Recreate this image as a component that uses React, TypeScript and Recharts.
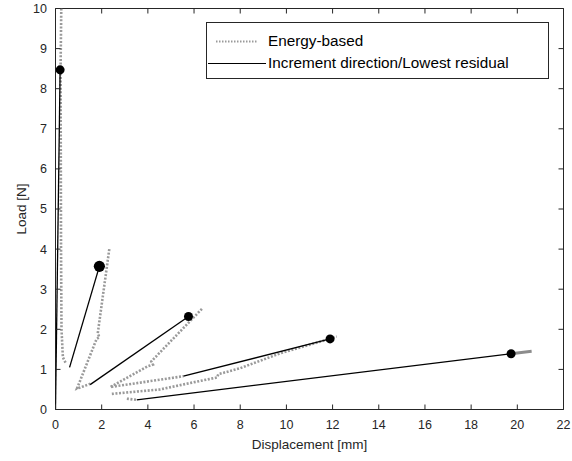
import React from "react";
import { ComposedChart, Line, Scatter, XAxis, YAxis, ReferenceArea, ReferenceLine } from "recharts";

const xTicks = [0, 2, 4, 6, 8, 10, 12, 14, 16, 18, 20, 22];
const yTicks = [0, 1, 2, 3, 4, 5, 6, 7, 8, 9, 10];

// Energy-based path
const energyBranch1 = [
  { x: 0.25, y: 10 },
  { x: 0.22, y: 8.5 },
  { x: 0.24, y: 4 },
  { x: 0.26, y: 2 },
  { x: 0.32, y: 1.3 },
  { x: 0.45, y: 1.15 },
];
const energyBranch2 = [
  { x: 2.33, y: 4.0 },
  { x: 1.83, y: 1.9 },
  { x: 1.9, y: 1.8 },
  { x: 1.78, y: 1.76 },
  { x: 0.93, y: 0.52 },
  { x: 1.5, y: 0.64 },
];
const energyBranch3 = [
  { x: 6.34, y: 2.51 },
  { x: 4.15, y: 1.2 },
  { x: 4.22, y: 1.12 },
  { x: 4.0, y: 1.08 },
  { x: 2.37, y: 0.56 },
  { x: 5.54, y: 0.83 },
];
const energyBranch4 = [
  { x: 2.44, y: 0.39 },
  { x: 4.53, y: 0.5 },
  { x: 5.83, y: 0.66 },
  { x: 7.0, y: 0.8 },
  { x: 7.05, y: 0.88 },
  { x: 8.0, y: 1.03 },
  { x: 9.73, y: 1.4 },
  { x: 11.75, y: 1.74 },
  { x: 12.18, y: 1.82 },
];
const energyBranch5 = [
  { x: 3.09, y: 0.27 },
  { x: 3.52, y: 0.24 },
];
const energyTail = [
  { x: 19.73, y: 1.39 },
  { x: 20.62, y: 1.45 },
];

// Increment direction / lowest residual segments
const incrementA = [
  { x: 0, y: 0 },
  { x: 0.2, y: 8.47 },
];
const incrementB = [
  { x: 0.61, y: 1.05 },
  { x: 1.9, y: 3.57 },
];
const incrementC = [
  { x: 1.5, y: 0.62 },
  { x: 5.76, y: 2.32 },
];
const incrementD = [
  { x: 5.54, y: 0.83 },
  { x: 11.89, y: 1.76 },
];
const incrementE = [
  { x: 3.52, y: 0.24 },
  { x: 19.73, y: 1.39 },
];

const peakPoints = [
  { x: 0.2, y: 8.47 },
  { x: 5.76, y: 2.32 },
  { x: 11.89, y: 1.76 },
  { x: 19.73, y: 1.39 },
];
const doublePeak = [{ x: 1.9, y: 3.57 }];

const energyBranches = [energyBranch1, energyBranch2, energyBranch3, energyBranch4, energyBranch5];
const incrementSegments = [incrementA, incrementB, incrementC, incrementD, incrementE];

const INK = "#262626";
const GREY = "#9a9a9a";
const FONT = '"Liberation Sans", Arial, Helvetica, sans-serif';
const TICK_LEN = 5;

const dot = (r: number) => (p: any) => <circle cx={p.cx} cy={p.cy} r={r} fill="#000" />;

// MATLAB-style inward ticks at both ends of a reference line, drawn as paths
function VTicks(p: any) {
  const x = Number(p.x1);
  const top = Math.min(Number(p.y1), Number(p.y2));
  const bottom = Math.max(Number(p.y1), Number(p.y2));
  return (
    <path
      d={`M${x},${bottom}V${bottom - TICK_LEN}M${x},${top}V${top + TICK_LEN}`}
      stroke={INK}
      strokeWidth={1}
      fill="none"
    />
  );
}
function HTicks(p: any) {
  const y = Number(p.y1);
  const left = Math.min(Number(p.x1), Number(p.x2));
  const right = Math.max(Number(p.x1), Number(p.x2));
  return (
    <path
      d={`M${left},${y}H${left + TICK_LEN}M${right},${y}H${right - TICK_LEN}`}
      stroke={INK}
      strokeWidth={1}
      fill="none"
    />
  );
}

function Legend() {
  return (
    <div
      style={{
        position: "absolute",
        left: 206,
        top: 22,
        width: 341,
        height: 55,
        border: `1px solid ${INK}`,
        background: "#fff",
        fontFamily: FONT,
        fontSize: 15.3,
        color: "#000",
      }}
    >
      <svg width={60} height={55} style={{ position: "absolute", left: 0, top: 0 }}>
        <line x1={9} y1={18.5} x2={51} y2={18.5} stroke={GREY} strokeWidth={2} strokeDasharray="1.5 1.5" />
        <line x1={1} y1={40.5} x2={59} y2={40.5} stroke="#000" strokeWidth={1.2} />
      </svg>
      <div style={{ position: "absolute", left: 61, top: 9, lineHeight: "18px" }}>Energy-based</div>
      <div style={{ position: "absolute", left: 61, top: 31, lineHeight: "18px" }}>
        Increment direction/Lowest residual
      </div>
    </div>
  );
}

export default function App() {
  return (
    <div style={{ position: "absolute", left: 0, top: 0, width: 572, height: 461, background: "#fff" }}>
      <ComposedChart width={572} height={461} margin={{ top: 8.5, right: 8.5, bottom: 0, left: 0.5 }}>
        <XAxis
          dataKey="x"
          type="number"
          domain={[0, 22]}
          ticks={xTicks}
          interval={0}
          allowDataOverflow
          height={51.5}
          axisLine={false}
          tickLine={false}
          tickSize={0}
          tickMargin={11}
          tick={{ fill: INK, fontSize: 12.5, fontFamily: FONT }}
          label={{
            content: ({ viewBox }: any) => (
              <text
                x={viewBox.x + viewBox.width / 2}
                y={viewBox.y + 35}
                dy="0.36em"
                textAnchor="middle"
                fill={INK}
                fontSize={13.5}
                fontFamily={FONT}
              >
                Displacement [mm]
              </text>
            ),
          }}
        />
        <YAxis
          dataKey="y"
          type="number"
          domain={[0, 10]}
          ticks={yTicks}
          interval={0}
          allowDataOverflow
          width={55}
          axisLine={false}
          tickLine={false}
          tickSize={0}
          tickMargin={8.5}
          tick={{ fill: INK, fontSize: 12.5, fontFamily: FONT }}
          label={{
            content: ({ viewBox }: any) => {
              const cx = viewBox.x + 21;
              const cy = viewBox.y + viewBox.height / 2;
              return (
                <text
                  x={cx}
                  y={cy}
                  dy="0.36em"
                  textAnchor="middle"
                  transform={`rotate(-90 ${cx} ${cy})`}
                  fill={INK}
                  fontSize={13.5}
                  fontFamily={FONT}
                >
                  Load [N]
                </text>
              );
            },
          }}
        />

        {energyBranches.map((branch, i) => (
          <Line
            key={`e${i}`}
            data={branch}
            dataKey="y"
            type="linear"
            stroke={GREY}
            strokeWidth={2.6}
            strokeDasharray="2 1.6"
            dot={false}
            activeDot={false}
            isAnimationActive={false}
          />
        ))}
        <Line
          data={energyTail}
          dataKey="y"
          type="linear"
          stroke="#8c8c8c"
          strokeWidth={3}
          dot={false}
          activeDot={false}
          isAnimationActive={false}
        />
        {incrementSegments.map((seg, i) => (
          <Line
            key={`s${i}`}
            data={seg}
            dataKey="y"
            type="linear"
            stroke="#000"
            strokeWidth={1.3}
            dot={false}
            activeDot={false}
            isAnimationActive={false}
          />
        ))}
        <Scatter data={peakPoints} dataKey="y" shape={dot(4.5)} isAnimationActive={false} />
        <Scatter data={doublePeak} dataKey="y" shape={dot(5.6)} isAnimationActive={false} />

        {/* axes box and inward ticks */}
        <ReferenceArea x1={0} x2={22} y1={0} y2={10} fill="none" stroke={INK} strokeWidth={1} />
        {xTicks.map((t) => (
          <ReferenceLine key={`xt${t}`} x={t} stroke={INK} shape={VTicks} />
        ))}
        {yTicks.map((t) => (
          <ReferenceLine key={`yt${t}`} y={t} stroke={INK} shape={HTicks} />
        ))}
      </ComposedChart>
      <Legend />
    </div>
  );
}
